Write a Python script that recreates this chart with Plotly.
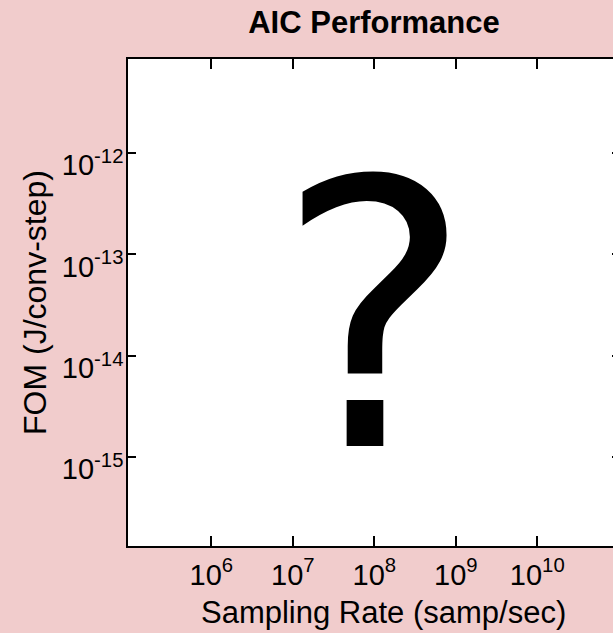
import plotly.graph_objects as go

# Axis decades shown on each log axis
x_tick_values = [1e6, 1e7, 1e8, 1e9, 1e10]
x_tick_labels = ["10<sup>6</sup>", "10<sup>7</sup>", "10<sup>8</sup>", "10<sup>9</sup>", "10<sup>10</sup>"]
y_tick_values = [1e-15, 1e-14, 1e-13, 1e-12]
y_tick_labels = ["10<sup>-15</sup>", "10<sup>-14</sup>", "10<sup>-13</sup>", "10<sup>-12</sup>"]

# Visible extent of the axes (log10 units)
x_range_log = [4.978, 11.015]
y_range_log = [-15.88, -11.07]

title_text = "AIC Performance"
x_title = "Sampling Rate (samp/sec)"
y_title = "FOM (J/conv-step)"
placeholder = "?"

PINK = "#F1CCCC"
FONT = "Liberation Sans, Arial, Helvetica, sans-serif"

fig = go.Figure()
# Empty series: no performance points to plot yet
fig.add_trace(go.Scatter(x=[], y=[], mode="markers", showlegend=False))

fig.update_layout(
    width=624,
    height=633,
    margin=dict(l=128, r=4, t=59, b=87, pad=0),
    paper_bgcolor=PINK,
    plot_bgcolor="white",
    font=dict(family=FONT, size=29, color="black"),
    showlegend=False,
    title=dict(
        text="<b>" + title_text + "</b>",
        font=dict(family=FONT, size=31, color="black"),
        x=0.5, xref="paper", xanchor="center",
        y=1 - 22 / 633, yref="container", yanchor="middle",
    ),
)

fig.update_xaxes(
    type="log",
    range=x_range_log,
    tickmode="array",
    tickvals=x_tick_values,
    ticktext=x_tick_labels,
    ticks="inside",
    ticklen=10,
    tickwidth=1.5,
    tickcolor="black",
    showline=True,
    linecolor="black",
    linewidth=1.5,
    mirror="ticks",
    showgrid=False,
    zeroline=False,
    tickfont=dict(family=FONT, size=29),
    ticklabelstandoff=2,
    automargin=False,
)

fig.update_yaxes(
    type="log",
    range=y_range_log,
    tickmode="array",
    tickvals=y_tick_values,
    ticktext=y_tick_labels,
    ticks="inside",
    ticklen=8,
    tickwidth=1.5,
    tickcolor="black",
    showline=True,
    linecolor="black",
    linewidth=1.5,
    mirror="ticks",
    showgrid=False,
    zeroline=False,
    tickfont=dict(family=FONT, size=29),
    ticklabelshift=12,
    ticklabelstandoff=-3,
    title=dict(text=y_title, font=dict(family=FONT, size=32), standoff=6),
    automargin=False,
)

# x-axis label, placed under the tick labels
fig.add_annotation(
    text=x_title,
    x=0.5, y=0, xref="paper", yref="paper",
    xanchor="center", yanchor="top",
    xshift=9, yshift=-47,
    showarrow=False,
    font=dict(family=FONT, size=31, color="black"),
)

# Large question mark in the middle of the axes
fig.add_annotation(
    text=placeholder,
    x=0.5, y=0.5, xref="paper", yref="paper",
    xanchor="center", yanchor="middle",
    yshift=-15,
    showarrow=False,
    font=dict(family="DejaVu Sans", size=370, color="black"),
)

fig.write_html(
    "out.html",
    post_script="document.documentElement.style.overflow='hidden';document.body.style.overflow='hidden';",
)
